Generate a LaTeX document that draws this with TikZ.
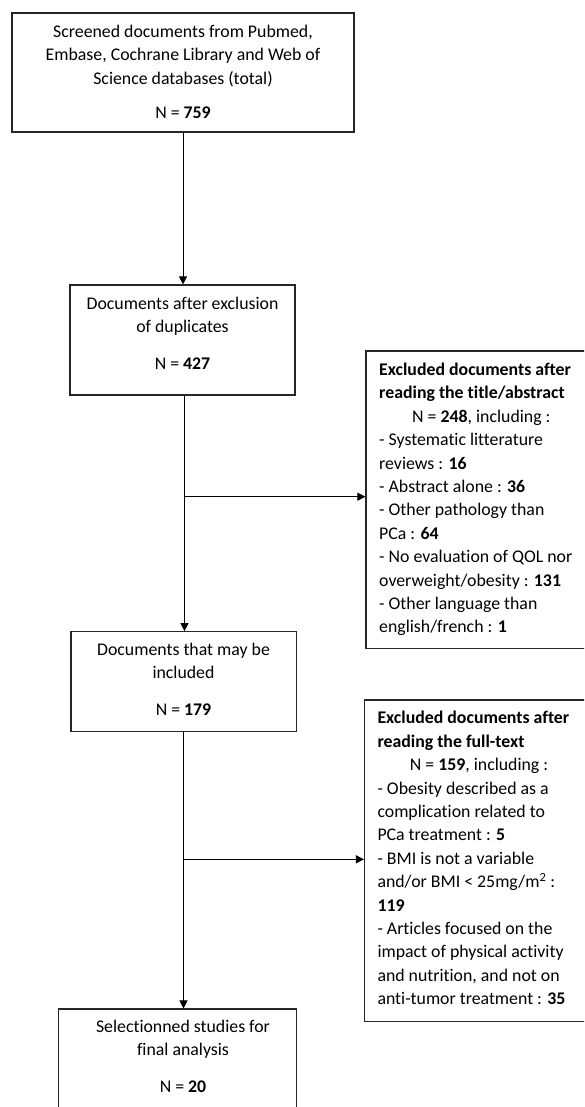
\documentclass[tikz,border=0pt]{standalone}
\usepackage{fontspec}
\setmainfont[Ligatures=NoCommon]{Carlito}
\usetikzlibrary{arrows.meta}
\definecolor{edge}{HTML}{262626}
\tikzset{
  box/.style={draw=edge, line width=1.1pt, inner sep=0pt},
  txt/.style={inner sep=0pt, text=black, font={\fontsize{17.8pt}{23.4pt}\selectfont}},
  arr/.style={draw=black, line width=0.9pt, -{Triangle[length=8pt,width=8pt]}},
  plain/.style={draw=black, line width=0.9pt}
}
\begin{document}
\begin{tikzpicture}[x=1pt,y=-1pt]
\useasboundingbox (0,0) rectangle (584,1107);
\fill[white] (0,0) rectangle (584,1107);
\clip (0,0) rectangle (584,1107);

% boxes
\node[box, minimum width=342pt, minimum height=119pt] (b1) at (183,72.5) {};
\node[box, minimum width=225pt, minimum height=110pt] (b2) at (182.5,340) {};
\node[box, minimum width=234pt, minimum height=297.3pt] (r1) at (483,499.65) {};
\node[box, minimum width=225.7pt, minimum height=100pt] (b3) at (183.85,681.7) {};
\node[box, minimum width=235.5pt, minimum height=321.7pt] (r2) at (482.25,860.85) {};
\node[box, minimum width=238.3pt, minimum height=121pt] (b4) at (177.65,1069.5) {};

% texts
\node[txt, anchor=base] (t1) at (183,37.5) {\begin{tabular}[t]{@{}c@{}}Screened documents from Pubmed,\\Embase, Cochrane Library and Web of\\Science databases (total)\\[10.7pt]N = \textbf{759}\end{tabular}};
\node[txt, anchor=base] (t2) at (182.5,309.5) {\begin{tabular}[t]{@{}c@{}}Documents after exclusion\\of duplicates\\[12.7pt]N = \textbf{427}\end{tabular}};
\node[txt, anchor=base west] (tr1) at (379,375.5) {\begin{tabular}[t]{@{}l@{}}\textbf{Excluded documents after}\\\textbf{reading the title/abstract}\\\hspace*{33pt}N = \textbf{248}, including :\\- Systematic litterature\\reviews : \textbf{16}\\- Abstract alone : \textbf{36}\\- Other pathology than\\PCa : \textbf{64}\\- No evaluation of QOL nor\\overweight/obesity : \textbf{131}\\- Other language than\\english/french : \textbf{1}\end{tabular}};
\node[txt, anchor=base] (t3) at (183.5,655.5) {\begin{tabular}[t]{@{}c@{}}Documents that may be\\included\\[13.3pt]N = \textbf{179}\end{tabular}};
\node[txt, anchor=base west] (tr2) at (377.3,723.8) {\begin{tabular}[t]{@{}l@{}}\textbf{Excluded documents after}\\\textbf{reading the full-text}\\\hspace*{32.4pt}N = \textbf{159}, including :\\- Obesity described as a\\complication related to\\PCa treatment : \textbf{5}\\- BMI is not a variable\\and/or BMI < 25mg/m\textsuperscript{2} :\\\textbf{119}\\- Articles focused on the\\impact of physical activity\\and nutrition, and not on\\anti-tumor treatment : \textbf{35}\end{tabular}};
\node[txt, anchor=base] (t4) at (183,1032.5) {\begin{tabular}[t]{@{}c@{}}Selectionned studies for\\final analysis\\[13.6pt]N = \textbf{20}\end{tabular}};

% connectors
\coordinate (j1) at (184.5,496.7);
\coordinate (j2) at (183.5,859.3);
\draw[arr] (b1.south) -- (b1.south |- b2.north);
\draw[arr] (b2.south -| j1) -- (b3.north -| j1);
\draw[arr] (j1) -- (r1.west |- j1);
\draw[arr] (b3.south -| j2) -- (b4.north -| j2);
\draw[arr] (j2) -- (r2.west |- j2);
\end{tikzpicture}
\end{document}
